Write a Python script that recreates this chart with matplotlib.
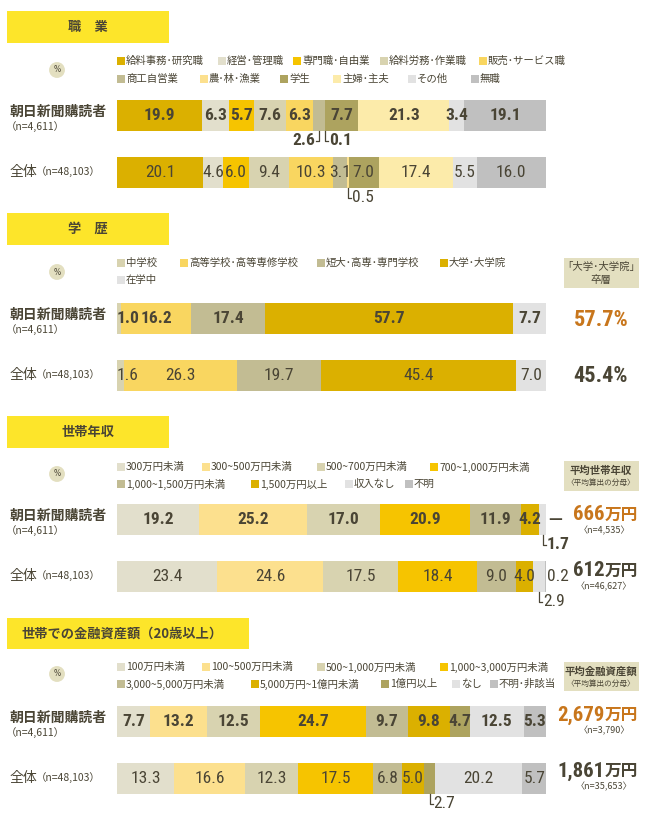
import os
import numpy as np
import matplotlib
matplotlib.use('Agg')
from matplotlib import pyplot as plt
from matplotlib import font_manager as fm
from matplotlib.patches import Rectangle

W, H = 652, 815
TXT = '#4a4535'
ORANGE = '#c8761c'
HEAD = '#fde52a'
BOX = '#e3dfc0'
JP = ['Noto Sans CJK JP', 'DejaVu Sans']

plt.rcParams['font.family'] = JP

# colours
GOLD = '#dbb000'
PALE = '#e2dfcc'
ORG = '#f6c400'
BEIGE = '#d8d3b0'
YEL = '#f9d660'
OLIVE_L = '#c2bc93'
YEL_L = '#fce08e'
OLIVE = '#ada35f'
CREAM = '#fcebaa'
LGRAY = '#e2e2e2'
GRAY = '#c0c0c0'

# ---- data ----
job_cats = ['給料事務･研究職', '経営･管理職', '専門職･自由業', '給料労務･作業職', '販売･サービス職',
            '商工自営業', '農･林･漁業', '学生', '主婦･主夫', 'その他', '無職']
job_colors = [GOLD, PALE, ORG, BEIGE, YEL, OLIVE_L, YEL_L, OLIVE, CREAM, LGRAY, GRAY]
job_reader = [19.9, 6.3, 5.7, 7.6, 6.3, 2.6, 0.1, 7.7, 21.3, 3.4, 19.1]
job_total = [20.1, 4.6, 6.0, 9.4, 10.3, 3.1, 0.5, 7.0, 17.4, 5.5, 16.0]

edu_cats = ['中学校', '高等学校･高等専修学校', '短大･高専･専門学校', '大学･大学院', '在学中']
edu_colors = [BEIGE, YEL, OLIVE_L, GOLD, LGRAY]
edu_reader = [1.0, 16.2, 17.4, 57.7, 7.7]
edu_total = [1.6, 26.3, 19.7, 45.4, 7.0]

inc_cats = ['300万円未満', '300~500万円未満', '500~700万円未満', '700~1,000万円未満',
            '1,000~1,500万円未満', '1,500万円以上', '収入なし', '不明']
inc_colors = [PALE, YEL_L, BEIGE, ORG, OLIVE_L, GOLD, LGRAY, GRAY]
inc_reader = [19.2, 25.2, 17.0, 20.9, 11.9, 4.2, 1.7, 0.0]
inc_total = [23.4, 24.6, 17.5, 18.4, 9.0, 4.0, 2.9, 0.2]
inc_avg = ['666', '612']
inc_avg_n = ['〈n=4,535〉', '〈n=46,627〉']

ast_cats = ['100万円未満', '100~500万円未満', '500~1,000万円未満', '1,000~3,000万円未満',
            '3,000~5,000万円未満', '5,000万円~1億円未満', '1億円以上', 'なし', '不明･非該当']
ast_colors = [PALE, YEL_L, BEIGE, ORG, OLIVE_L, GOLD, OLIVE, LGRAY, GRAY]
ast_reader = [7.7, 13.2, 12.5, 24.7, 9.7, 9.8, 4.7, 12.5, 5.3]
ast_total = [13.3, 16.6, 12.3, 17.5, 6.8, 5.0, 2.7, 20.2, 5.7]
ast_avg = ['2,679', '1,861']
ast_avg_n = ['〈n=3,790〉', '〈n=35,653〉']

reader_label = '朝日新聞購読者'
reader_n = '（n=4,611）'
total_label = '全体'
total_n = '（n=48,103）'


# condensed font for the numbers, whichever is installed
def pick_font(bold):
    prefs = ['liberationsansnarrow', 'notosans-condensed', 'robotocondensed',
             'dejavusanscondensed', 'opensans-condensed', 'opensanscondensed']
    files = [f.fname for f in fm.fontManager.ttflist]
    for p in prefs:
        for fn in files:
            b = os.path.basename(fn).lower()
            if not b.startswith(p) or 'italic' in b or 'oblique' in b:
                continue
            if any(w in b for w in ['semibold', 'extrabold', 'light', 'thin',
                                    'medium', 'black', 'semi', 'extra']):
                continue
            if ('bold' in b) == bold:
                return fn
    return None


FONT_B = pick_font(True)
FONT_R = pick_font(False)


def numfont(size, bold):
    fn = FONT_B if bold else FONT_R
    if fn:
        return fm.FontProperties(fname=fn, size=size)
    return fm.FontProperties(family='Roboto', weight='bold' if bold else 'normal', size=size)


fig = plt.figure(figsize=(W / 100, H / 100), dpi=100)


def fx(x):
    return x / W


def fy(y):
    return 1 - y / H


BAR_L, BAR_R = 117, 546
BH = 31 / 57.0
NUMSIZE = 12.5


def header(y0, y1, text, x1=169, centered=True):
    fig.patches.append(Rectangle((fx(7), fy(y1)), fx(x1) - fx(7), (y1 - y0) / H,
                                 transform=fig.transFigure, fc=HEAD, ec='none'))
    if centered:
        fig.text(fx((7 + x1) / 2), fy((y0 + y1) / 2), text, ha='center', va='center',
                 fontsize=9.5, fontweight='bold', color=TXT)
    else:
        fig.text(fx(22), fy((y0 + y1) / 2), text, ha='left', va='center',
                 fontsize=9.5, fontweight='bold', color=TXT)


def pct(y):
    fig.text(fx(57), fy(y), '%', ha='center', va='center', fontsize=5.5, color=TXT,
             family=['DejaVu Sans'],
             bbox=dict(boxstyle='circle,pad=0.45', fc=BOX, ec='none'))


def legend(cats, colors, pos):
    for cat, col, (x, y) in zip(cats, colors, pos):
        fig.patches.append(Rectangle((fx(x), fy(y + 4)), 8 / W, 8 / H,
                                     transform=fig.transFigure, fc=col, ec='none'))
        fig.text(fx(x + 9), fy(y), cat, ha='left', va='center', fontsize=7.5, color=TXT)


def rowlabels(top):
    fig.text(fx(10), fy(top + 12), reader_label, ha='left', va='center',
             fontsize=10, fontweight='bold', color=TXT)
    fig.text(fx(6), fy(top + 27), reader_n, ha='left', va='center', fontsize=7.5, color=TXT)
    fig.text(fx(10), fy(top + 72), total_label, ha='left', va='center', fontsize=10, color=TXT)
    fig.text(fx(36), fy(top + 72), total_n, ha='left', va='center', fontsize=7.5, color=TXT)


def bars(top, colors, reader, total, hide):
    ax = fig.add_axes([fx(BAR_L), fy(top + 88), (BAR_R - BAR_L) / W, 88 / H])
    ax.set_xlim(0, 100)
    ax.set_ylim(1 + BH / 2, -BH / 2)
    ax.axis('off')
    for i, vals in enumerate([reader, total]):
        lefts = np.concatenate([[0], np.cumsum(vals)[:-1]])
        ax.barh([i] * len(vals), vals, left=lefts, height=BH, color=colors, linewidth=0)
        for j, (l, v) in enumerate(zip(lefts, vals)):
            if (i, j) in hide or v == 0:
                continue
            # a thin first segment gets its label starting at the bar's edge
            if j == 0 and v < 3:
                xt, ha = l, 'left'
            else:
                xt, ha = l + v / 2, 'center'
            ax.text(xt, i, '%.1f' % v, ha=ha, va='center', color=TXT,
                    fontproperties=numfont(NUMSIZE, i == 0))
    return ax


def callout(ax, vals, row, j, side):
    lefts = np.concatenate([[0], np.cumsum(vals)[:-1]])
    xc = lefts[j] + vals[j] / 2
    yb = row + BH / 2
    yd = yb + 0.17
    dx = 0.8 if side == 'right' else -0.8
    ax.plot([xc, xc, xc + dx], [yb, yd, yd], color=TXT, lw=0.9, clip_on=False)
    ax.text(xc + dx * 1.2, yd, '%.1f' % vals[j], ha='left' if side == 'right' else 'right',
            va='center', color=TXT, fontproperties=numfont(NUMSIZE, row == 0), clip_on=False)


def rightbox(y0, y1, l1, l2):
    fig.patches.append(Rectangle((fx(564), fy(y1)), fx(639) - fx(564), (y1 - y0) / H,
                                 transform=fig.transFigure, fc=BOX, ec='none'))
    if l2.startswith('〈'):
        fig.text(fx(601), fy(y0 + 10), l1, ha='center', va='center', fontsize=7.5,
                 fontweight='bold', color=TXT)
        fig.text(fx(601), fy(y0 + 22), l2, ha='center', va='center', fontsize=5.5, color=TXT)
    else:
        fig.text(fx(601), fy(y0 + 9), l1, ha='center', va='center', fontsize=7.5, color=TXT)
        fig.text(fx(601), fy(y0 + 22), l2, ha='center', va='center', fontsize=7.5, color=TXT)


def bigpct(y, v, color):
    fig.text(fx(601), fy(y), '%.1f%%' % v, ha='center', va='center', color=color,
             fontproperties=numfont(16, True))


def bigyen(y, num, color, n, ny):
    fig.text(fx(605), fy(y), num, ha='right', va='center', color=color,
             fontproperties=numfont(15, True))
    fig.text(fx(605), fy(y), '万円', ha='left', va='center', color=color,
             fontsize=12, fontweight='bold')
    fig.text(fx(604), fy(ny), n, ha='center', va='center', fontsize=6.5, color=TXT)


# ---- section 1: 職業 ----
header(11, 43, '職　業')
pct(70)
legend(job_cats, job_colors,
       [(117, 61), (218, 61), (293, 61), (380, 61), (479, 61),
        (117, 79), (200, 79), (280, 79), (333, 79), (408, 79), (471, 79)])
rowlabels(100)
ax1 = bars(100, job_colors, job_reader, job_total, {(0, 5), (0, 6), (1, 6)})
callout(ax1, job_reader, 0, 5, 'left')
callout(ax1, job_reader, 0, 6, 'right')
callout(ax1, job_total, 1, 6, 'right')

# ---- section 2: 学歴 ----
header(213, 245, '学　歴')
pct(272)
legend(edu_cats, edu_colors, [(117, 263), (180, 263), (317, 263), (440, 263), (117, 280)])
rowlabels(303)
bars(303, edu_colors, edu_reader, edu_total, set())
rightbox(258, 288, '「大学･大学院」', '卒層')
bigpct(320, edu_reader[3], ORANGE)
bigpct(376, edu_total[3], TXT)

# ---- section 3: 世帯年収 ----
header(416, 448, '世帯年収')
pct(474)
legend(inc_cats, inc_colors,
       [(117, 467), (202, 467), (317, 467), (430, 467),
        (117, 484), (251, 484), (345, 484), (405, 484)])
rowlabels(504)
ax3 = bars(504, inc_colors, inc_reader, inc_total, {(0, 6), (0, 7), (1, 6), (1, 7)})
callout(ax3, inc_reader, 0, 6, 'right')
callout(ax3, inc_total, 1, 6, 'right')
ax3.text(100.6, 0, '—', ha='left', va='center', fontsize=10, fontweight='bold',
         color=TXT, family=['DejaVu Sans'], clip_on=False)
ax3.text(100.2, 1, '%.1f' % inc_total[7], ha='left', va='center', color=TXT,
         fontproperties=numfont(NUMSIZE, False), clip_on=False)
rightbox(461, 491, '平均世帯年収', '〈平均算出の分母〉')
bigyen(515, inc_avg[0], ORANGE, inc_avg_n[0], 531)
bigyen(571, inc_avg[1], TXT, inc_avg_n[1], 587)

# ---- section 4: 金融資産額 ----
header(618, 649, '世帯での金融資産額（20歳以上）', x1=249, centered=False)
pct(674)
legend(ast_cats, ast_colors,
       [(117, 667), (202, 667), (317, 667), (440, 667),
        (117, 684), (251, 684), (381, 684), (452, 684), (490, 684)])
rowlabels(706)
ax4 = bars(706, ast_colors, ast_reader, ast_total, {(1, 6)})
callout(ax4, ast_total, 1, 6, 'right')
rightbox(662, 691, '平均金融資産額', '〈平均算出の分母〉')
bigyen(715, ast_avg[0], ORANGE, ast_avg_n[0], 731)
bigyen(771, ast_avg[1], TXT, ast_avg_n[1], 787)

fig.savefig('out.png', dpi=100, facecolor='white')
